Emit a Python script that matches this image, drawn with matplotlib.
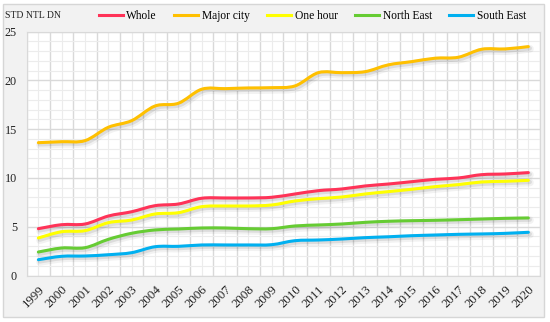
'''STD of NTL DN by region, 1999-2020 (smoothed lines, Excel-like look)'''
import numpy as np
import matplotlib
matplotlib.use('Agg')
import matplotlib.pyplot as plt
import matplotlib.patheffects as pe
from matplotlib.path import Path
from matplotlib.patches import PathPatch, Rectangle
from matplotlib.lines import Line2D
from matplotlib.ticker import MultipleLocator
from matplotlib import rcParams
params = {'font.family': ['Liberation Serif', 'DejaVu Serif'], 'font.size': 8}
rcParams.update(params)

# data
years = list(range(1999, 2021))
whole = [4.80, 5.21, 5.28, 6.10, 6.54, 7.16, 7.33, 7.92, 7.95, 7.95, 8.02, 8.36,
         8.70, 8.87, 9.18, 9.38, 9.62, 9.86, 10.00, 10.34, 10.41, 10.55]
major_city = [13.62, 13.72, 13.83, 15.20, 15.88, 17.38, 17.66, 19.10, 19.16, 19.23, 19.26, 19.44,
              20.80, 20.80, 20.90, 21.60, 21.93, 22.28, 22.38, 23.20, 23.23, 23.47]
one_hour = [3.85, 4.49, 4.60, 5.42, 5.69, 6.31, 6.44, 7.06, 7.13, 7.13, 7.23, 7.64,
            7.88, 8.05, 8.36, 8.60, 8.84, 9.11, 9.32, 9.59, 9.66, 9.76]
north_east = [2.41, 2.82, 2.85, 3.71, 4.33, 4.67, 4.77, 4.87, 4.87, 4.80, 4.80, 5.08,
              5.18, 5.28, 5.45, 5.56, 5.62, 5.66, 5.72, 5.79, 5.86, 5.90]
south_east = [1.62, 1.97, 2.00, 2.13, 2.34, 2.95, 2.99, 3.13, 3.13, 3.13, 3.16, 3.57,
              3.64, 3.74, 3.88, 3.97, 4.08, 4.15, 4.22, 4.26, 4.32, 4.43]

names = ['Whole', 'Major city', 'One hour', 'North East', 'South East']
series = [whole, major_city, one_hour, north_east, south_east]
colors = ['#FF3358', '#FFC000', '#FFFF00', '#66CC33', '#00B0F0']

# smooth path through the points (cardinal spline as bezier segments)
def SmoothPath(x, y):

    p = np.column_stack([x, y]).astype(float)
    verts = [p[0]]
    codes = [Path.MOVETO]
    n = len(p)
    for i in range(n - 1):
        p0 = p[i - 1] if i > 0 else p[i]
        p3 = p[i + 2] if i + 2 < n else p[i + 1]
        c1 = p[i] + (p[i + 1] - p0) / 6
        c2 = p[i + 1] - (p3 - p[i]) / 6
        verts += [c1, c2, p[i + 1]]
        codes += [Path.CURVE4] * 3

    return Path(verts, codes)

fig = plt.figure(1, (5.5, 3.22), dpi = 100)
fig.patch.set_facecolor('white')
fig.patches.append(Rectangle((3/550, 5/322), 541/550, 313/322, transform = fig.transFigure,
                             facecolor = '#f2f2f2', edgecolor = '#d6d6d6', lw = 1, zorder = -10))

ax = fig.add_axes([26.7/550, 1 - 275.5/322, (540 - 26.7)/550, (275.5 - 31.7)/322])
ax.set_zorder(1)
ax.set_facecolor('white')
ax.set_xlim([1998.5, 2020.5])
ax.set_ylim([0, 25])

ax.xaxis.set_major_locator(MultipleLocator(1, offset = 0.5))
ax.xaxis.set_minor_locator(MultipleLocator(1))
ax.yaxis.set_major_locator(MultipleLocator(5))
ax.yaxis.set_minor_locator(MultipleLocator(1))
ax.grid(which = 'major', color = '#d9d9d9', lw = 1)
ax.grid(which = 'minor', color = '#ececec', lw = 0.8)
ax.set_axisbelow(True)
for s in ax.spines.values():
    s.set_color('#d9d9d9')
ax.tick_params(which = 'both', length = 0)
ax.tick_params(axis = 'y', pad = 7, labelsize = 8.7, colors = '#222222')
ax.set_yticks([0, 5, 10, 15, 20, 25])

# x labels centred on years (minor positions)
ax.set_xticks(years, minor = True)
ax.set_xticklabels([str(y) for y in years], minor = True, rotation = 45, ha = 'right',
                   va = 'top', rotation_mode = 'anchor', fontsize = 9.3, color = '#222222')
ax.set_xticklabels([])
ax.tick_params(axis = 'x', which = 'minor', pad = 6)

for v, c in zip(series, colors):
    patch = PathPatch(SmoothPath(years, v), fill = False, edgecolor = c, lw = 2.2,
                      capstyle = 'round', joinstyle = 'round', zorder = 3)
    patch.set_path_effects([pe.SimpleLineShadow(offset = (1.2, -1.6), shadow_color = 'k', alpha = 0.05, linewidth = 5.5),
                            pe.SimpleLineShadow(offset = (1, -1.2), shadow_color = 'k', alpha = 0.09, linewidth = 3.2),
                            pe.Normal()])
    ax.add_patch(patch)

handles = [Line2D([], [], color = c, lw = 2.2) for c in colors]
fig.legend(handles, names, ncol = 5, frameon = False, loc = 'center', bbox_to_anchor = (0.568, 1 - 16/322),
           handlelength = 2.1, handletextpad = 0.3, columnspacing = 1.5, fontsize = 8.3)

fig.text(5/550, 1 - 16/322, 'STD NTL DN', fontsize = 7, ha = 'left', va = 'center', color = '#222222')

plt.savefig('out.png', dpi = 100)
